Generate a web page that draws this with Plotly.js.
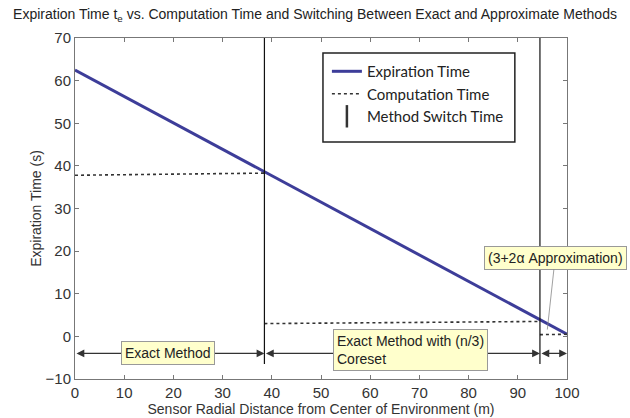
<!DOCTYPE html>
<html>
<head>
<meta charset="utf-8">
<script src="https://cdn.plot.ly/plotly-3.0.1.min.js"></script>
<style>html,body{margin:0;padding:0;background:#fff;}#chart{width:630px;height:418px;}</style>
</head>
<body>
<div id="chart"></div>
<script>
// Expiration time (blue line)
const expDistance = [0, 38.5, 94.5, 100];
const expirationTime = [62.5, 38.6, 3.8, 0.5];

// Computation time (three method segments)
const compDistance = [0, 38.5, null, 38.5, 94.5, null, 94.5, 100];
const computationTime = [37.8, 38.3, null, 3.0, 3.5, null, 0.4, 0.5];

// Method switch distances
const switchDistance = [38.5, 94.5];
const switchLow = -6.5;
const switchHigh = 70;

// Region labels
const regionStart = [0, 38.5, 94.5];
const regionEnd = [38.5, 94.5, 100];
const regionLabels = ["Exact Method", "Exact Method with (n/3)<br>Coreset"];
const approxLabel = "(3+2α Approximation)";
const arrowLevel = -4;

const switchX = [], switchY = [];
switchDistance.forEach((d, i) => {
  if (i > 0) { switchX.push(null); switchY.push(null); }
  switchX.push(d, d); switchY.push(switchLow, switchHigh);
});

const traces = [
  {x: expDistance, y: expirationTime, mode: 'lines', name: 'Expiration Time',
   line: {color: '#3d3d99', width: 3}},
  {x: compDistance, y: computationTime, mode: 'lines', name: 'Computation Time',
   line: {color: '#333', width: 1.6, dash: 'dot'}},
  {x: switchX, y: switchY, mode: 'lines', name: 'Method Switch Time', showlegend: false,
   line: {color: '#111', width: 1.2}},
  {x: [null], y: [null], mode: 'markers', name: 'Method Switch Time',
   marker: {symbol: 'line-ns-open', size: 20, color: '#333', line: {color: '#333', width: 2.5}}}
];

const labelFont = {family: 'Liberation Sans, Arial, sans-serif', size: 14, color: '#222'};
const annotations = [];
regionStart.forEach((s, i) => {
  annotations.push({x: regionEnd[i], y: arrowLevel, ax: s, ay: arrowLevel,
    xref: 'x', yref: 'y', axref: 'x', ayref: 'y', text: '', showarrow: true,
    arrowhead: 2, startarrowhead: 2, arrowside: 'end+start', arrowsize: 1.2,
    arrowwidth: 1.3, arrowcolor: '#333'});
});
annotations.push({x: 19, y: arrowLevel, xref: 'x', yref: 'y', text: regionLabels[0],
  showarrow: false, bgcolor: '#ffffcc', bordercolor: '#999', borderwidth: 1, borderpad: 3,
  font: labelFont});
annotations.push({x: 68.2, y: -3.1, xref: 'x', yref: 'y', text: regionLabels[1], align: 'left',
  showarrow: false, bgcolor: '#ffffcc', bordercolor: '#999', borderwidth: 1, borderpad: 3,
  font: labelFont});
annotations.push({x: 96, y: 1.6, xref: 'x', yref: 'y', ax: 97.6, ay: 18.5, axref: 'x', ayref: 'y',
  text: approxLabel, showarrow: true, arrowhead: 0, arrowwidth: 0.8, arrowcolor: '#888',
  bgcolor: '#ffffcc', bordercolor: '#999', borderwidth: 1, borderpad: 3, font: labelFont});

const axisCommon = {showgrid: false, zeroline: false, showline: true, linecolor: '#777',
  linewidth: 1, mirror: 'ticks', ticks: 'inside', ticklen: 4, tickcolor: '#777',
  tickfont: {family: 'Liberation Sans, Arial, sans-serif', size: 15, color: '#333'}};

const layout = {
  width: 630, height: 418,
  margin: {l: 75, r: 63, t: 38, b: 39},
  paper_bgcolor: '#fff', plot_bgcolor: '#fff',
  title: {text: 'Expiration Time t<sub>e</sub> vs. Computation Time and Switching Between Exact and Approximate Methods',
    x: 0.5, xanchor: 'center', y: 0.978, yanchor: 'top',
    font: {family: 'Liberation Sans, Arial, sans-serif', size: 14, color: '#222'}},
  xaxis: Object.assign({}, axisCommon, {range: [0, 100], dtick: 10,
    title: {text: 'Sensor Radial Distance from Center of Environment (m)', standoff: 0,
      font: {family: 'Liberation Sans, Arial, sans-serif', size: 14, color: '#333'}}}),
  yaxis: Object.assign({}, axisCommon, {range: [-10, 70], dtick: 10,
    title: {text: 'Expiration Time (s)', standoff: 0,
      font: {family: 'Liberation Sans, Arial, sans-serif', size: 14, color: '#333'}}}),
  showlegend: true,
  legend: {x: 0.512, y: 0.95, xanchor: 'left', yanchor: 'top', bgcolor: 'rgba(0,0,0,0)',
    borderwidth: 0, tracegroupgap: 0,
    font: {family: 'Lato, sans-serif', size: 15, color: '#222'}},
  shapes: [{type: 'rect', xref: 'paper', yref: 'paper', x0: 0.504, x1: 0.894, y0: 0.695, y1: 0.956,
    line: {color: '#222', width: 1.5}, fillcolor: 'rgba(0,0,0,0)', layer: 'above'}],
  annotations: annotations
};

Plotly.newPlot('chart', traces, layout, {displayModeBar: false, staticPlot: true});
</script>
</body>
</html>
